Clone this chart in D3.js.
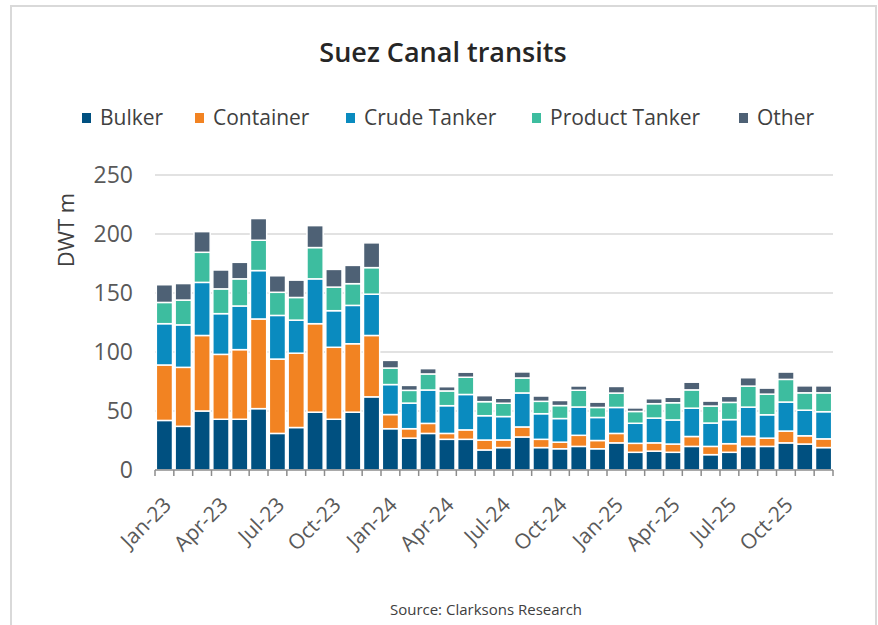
<!DOCTYPE html>
<html>
<head>
<meta charset="utf-8">
<script src="https://cdn.jsdelivr.net/npm/d3@7"></script>
<style>
  body { margin: 0; background: #fff; }
  svg text { font-family: "Open Sans", "Noto Sans", sans-serif; }
</style>
</head>
<body>
<svg id="chart"></svg>
<script>
const width = 878,
	height = 625;

const months = [
	'Jan-23', 'Feb-23', 'Mar-23', 'Apr-23', 'May-23', 'Jun-23', 'Jul-23', 'Aug-23', 'Sep-23', 'Oct-23', 'Nov-23', 'Dec-23',
	'Jan-24', 'Feb-24', 'Mar-24', 'Apr-24', 'May-24', 'Jun-24', 'Jul-24', 'Aug-24', 'Sep-24', 'Oct-24', 'Nov-24', 'Dec-24',
	'Jan-25', 'Feb-25', 'Mar-25', 'Apr-25', 'May-25', 'Jun-25', 'Jul-25', 'Aug-25', 'Sep-25', 'Oct-25', 'Nov-25', 'Dec-25'
];
const tickLabels = ['Jan-23', 'Apr-23', 'Jul-23', 'Oct-23', 'Jan-24', 'Apr-24', 'Jul-24', 'Oct-24', 'Jan-25', 'Apr-25', 'Jul-25', 'Oct-25'];
const series = ['Bulker', 'Container', 'Crude Tanker', 'Product Tanker', 'Other'];
const colors = ['#005080', '#f28322', '#0a8bbf', '#3dbd9f', '#4e6175'];

// DWT m per month
const bulker = [42, 37, 50, 43, 43, 52, 31, 36, 49, 43, 49, 62,
	35, 27, 31, 26, 26, 17, 19, 28, 19, 18, 20, 18,
	23, 15, 16, 15, 20, 13, 15, 20, 20, 23, 22, 19];
const container = [47, 50, 64, 55, 59, 76, 63, 63, 75, 61, 58, 52,
	12, 8, 8.5, 5, 8, 8.4, 6.5, 8.5, 7, 5.6, 9.4, 7,
	8, 7.6, 7, 7, 8.4, 7, 7.3, 8.5, 7, 10, 7, 7.4];
const crude = [35, 36, 45, 34.5, 37, 41, 37, 28, 38, 31, 32.5, 35,
	25.4, 21.7, 28.3, 23.5, 30, 20.6, 19.8, 28.8, 21.7, 20, 24, 19.5,
	22, 17, 21, 20.4, 24, 19.8, 20.4, 24.8, 19.8, 24.6, 21.7, 23];
const product = [18, 21, 25.5, 21, 23, 25.7, 19.6, 19.2, 26.5, 20, 18.4, 22.5,
	14, 10.8, 13.6, 12.5, 14.6, 11.9, 11.3, 12.7, 10.5, 11, 14.2, 8.5,
	12.2, 10, 12.2, 14.6, 15.5, 14.4, 14.6, 17.8, 17.5, 19.2, 14.7, 16];
const other = [15, 14, 17.5, 16, 14, 18.4, 14, 14.7, 18.6, 15, 15.5, 21,
	6.5, 4.2, 4.5, 3.6, 4.3, 5.1, 4.2, 5.1, 4.5, 4.3, 3.6, 4.5,
	5.6, 3, 4.2, 4.6, 6.5, 4.2, 5.1, 7.1, 5.1, 6.2, 5.9, 5.9];
const yTicks = [0, 50, 100, 150, 200, 250];

const table = months.map((m, i) => ({
	month: m,
	Bulker: bulker[i],
	Container: container[i],
	'Crude Tanker': crude[i],
	'Product Tanker': product[i],
	Other: other[i]
}));

const svg = d3.select('#chart').attr('width', width).attr('height', height);

// frame
svg.append('rect')
	.attr('x', 11).attr('y', 6)
	.attr('width', 865).attr('height', 640)
	.attr('fill', '#fff').attr('stroke', '#d9d9d9').attr('stroke-width', 2);

const x = d3.scaleBand().domain(months).range([155, 833]).paddingInner(0.14).paddingOuter(0.07);
const y = d3.scaleLinear().domain([0, 250]).range([470, 175]);
const color = d3.scaleOrdinal().domain(series).range(colors);

// grid
svg.append('g')
	.selectAll('line')
	.data(yTicks.filter(d => d > 0))
	.join('line')
	.attr('x1', 155).attr('x2', 833)
	.attr('y1', d => y(d)).attr('y2', d => y(d))
	.attr('stroke', '#d9d9d9').attr('stroke-width', 1.5);

// y labels
svg.append('g')
	.selectAll('text')
	.data(yTicks)
	.join('text')
	.attr('x', 133)
	.attr('y', d => y(d))
	.attr('dy', '0.36em')
	.attr('text-anchor', 'end')
	.attr('font-size', 23)
	.attr('fill', '#595959')
	.text(d => d);

svg.append('text')
	.attr('transform', 'translate(74,230) rotate(-90)')
	.attr('text-anchor', 'middle')
	.attr('font-size', 22)
	.attr('fill', '#404040')
	.text('DWT m');

// bars
const stacked = d3.stack().keys(series)(table);

svg.append('g')
	.selectAll('g')
	.data(stacked)
	.join('g')
	.attr('fill', d => color(d.key))
	.selectAll('rect')
	.data(d => d)
	.join('rect')
	.attr('x', d => x(d.data.month))
	.attr('width', x.bandwidth())
	.attr('y', d => y(d[1]))
	.attr('height', d => y(d[0]) - y(d[1]))
	.attr('stroke', '#fff')
	.attr('stroke-width', 1.5);

// x axis
const xAxis = svg.append('g').attr('transform', 'translate(0,470)');
xAxis.append('line')
	.attr('x1', 155).attr('x2', 833)
	.attr('stroke', '#8c8c8c').attr('stroke-width', 1.5);
xAxis.selectAll('.tick')
	.data(d3.range(months.length + 1))
	.join('line')
	.attr('class', 'tick')
	.attr('x1', i => 155 + i * (678 / months.length))
	.attr('x2', i => 155 + i * (678 / months.length))
	.attr('y1', 0).attr('y2', 6)
	.attr('stroke', '#8c8c8c').attr('stroke-width', 1.5);

svg.append('g')
	.selectAll('text')
	.data(tickLabels)
	.join('text')
	.attr('transform', d => `translate(${x(d) + x.bandwidth() / 2 + 3},501) rotate(-45)`)
	.attr('text-anchor', 'end')
	.attr('dy', '0.35em')
	.attr('font-size', 21)
	.attr('fill', '#595959')
	.text(d => d);

// title
svg.append('text')
	.attr('x', 443).attr('y', 62)
	.attr('text-anchor', 'middle')
	.attr('font-size', 27)
	.attr('font-weight', 600)
	.attr('fill', '#262626')
	.text('Suez Canal transits');

// legend
const legendX = [82, 195, 346, 532, 739];
const legend = svg.append('g')
	.selectAll('g')
	.data(series)
	.join('g')
	.attr('transform', (d, i) => `translate(${legendX[i]},118)`);
legend.append('rect')
	.attr('y', -5).attr('width', 9).attr('height', 10)
	.attr('fill', d => color(d));
legend.append('text')
	.attr('x', 18)
	.attr('dy', '0.35em')
	.attr('font-size', 21)
	.attr('fill', '#404040')
	.text(d => d);

svg.append('text')
	.attr('x', 486).attr('y', 615)
	.attr('text-anchor', 'middle')
	.attr('font-size', 15)
	.attr('fill', '#404040')
	.text('Source: Clarksons Research');
</script>
</body>
</html>
